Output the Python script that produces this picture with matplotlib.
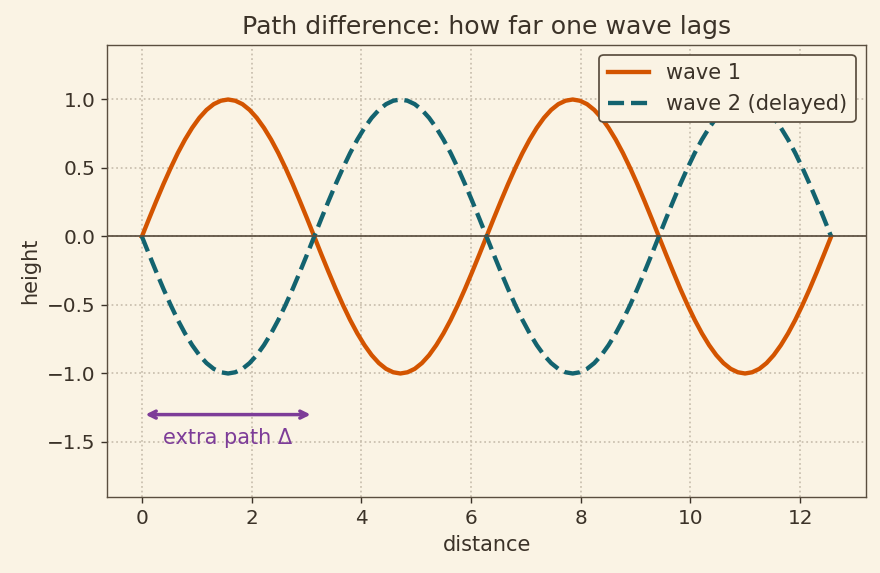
import matplotlib
matplotlib.use("Agg")
import matplotlib.pyplot as plt

plt.rcParams["font.family"] = ["DejaVu Sans"]

# distance samples (0 .. 4*pi)
distance = [0.000, 0.131, 0.262, 0.393, 0.524, 0.654, 0.785, 0.916, 1.047, 1.178, 1.309, 1.440,
            1.571, 1.702, 1.833, 1.963, 2.094, 2.225, 2.356, 2.487, 2.618, 2.749, 2.880, 3.011,
            3.142, 3.272, 3.403, 3.534, 3.665, 3.796, 3.927, 4.058, 4.189, 4.320, 4.451, 4.581,
            4.712, 4.843, 4.974, 5.105, 5.236, 5.367, 5.498, 5.629, 5.760, 5.890, 6.021, 6.152,
            6.283, 6.414, 6.545, 6.676, 6.807, 6.938, 7.069, 7.199, 7.330, 7.461, 7.592, 7.723,
            7.854, 7.985, 8.116, 8.247, 8.378, 8.508, 8.639, 8.770, 8.901, 9.032, 9.163, 9.294,
            9.425, 9.556, 9.687, 9.817, 9.948, 10.079, 10.210, 10.341, 10.472, 10.603, 10.734, 10.865,
            10.996, 11.126, 11.257, 11.388, 11.519, 11.650, 11.781, 11.912, 12.043, 12.174, 12.305, 12.435,
            12.566]

wave1 = [0.000, 0.131, 0.259, 0.383, 0.500, 0.609, 0.707, 0.793, 0.866, 0.924, 0.966, 0.991,
         1.000, 0.991, 0.966, 0.924, 0.866, 0.793, 0.707, 0.609, 0.500, 0.383, 0.259, 0.131,
         0.000, -0.131, -0.259, -0.383, -0.500, -0.609, -0.707, -0.793, -0.866, -0.924, -0.966, -0.991,
         -1.000, -0.991, -0.966, -0.924, -0.866, -0.793, -0.707, -0.609, -0.500, -0.383, -0.259, -0.131,
         0.000, 0.131, 0.259, 0.383, 0.500, 0.609, 0.707, 0.793, 0.866, 0.924, 0.966, 0.991,
         1.000, 0.991, 0.966, 0.924, 0.866, 0.793, 0.707, 0.609, 0.500, 0.383, 0.259, 0.131,
         0.000, -0.131, -0.259, -0.383, -0.500, -0.609, -0.707, -0.793, -0.866, -0.924, -0.966, -0.991,
         -1.000, -0.991, -0.966, -0.924, -0.866, -0.793, -0.707, -0.609, -0.500, -0.383, -0.259, -0.131,
         0.000]

wave2 = [0.000, -0.131, -0.259, -0.383, -0.500, -0.609, -0.707, -0.793, -0.866, -0.924, -0.966, -0.991,
         -1.000, -0.991, -0.966, -0.924, -0.866, -0.793, -0.707, -0.609, -0.500, -0.383, -0.259, -0.131,
         0.000, 0.131, 0.259, 0.383, 0.500, 0.609, 0.707, 0.793, 0.866, 0.924, 0.966, 0.991,
         1.000, 0.991, 0.966, 0.924, 0.866, 0.793, 0.707, 0.609, 0.500, 0.383, 0.259, 0.131,
         0.000, -0.131, -0.259, -0.383, -0.500, -0.609, -0.707, -0.793, -0.866, -0.924, -0.966, -0.991,
         -1.000, -0.991, -0.966, -0.924, -0.866, -0.793, -0.707, -0.609, -0.500, -0.383, -0.259, -0.131,
         0.000, 0.131, 0.259, 0.383, 0.500, 0.609, 0.707, 0.793, 0.866, 0.924, 0.966, 0.991,
         1.000, 0.991, 0.966, 0.924, 0.866, 0.793, 0.707, 0.609, 0.500, 0.383, 0.259, 0.131,
         0.000]

# arrow showing the lag
lag_start = 0.0
lag_end = 3.14
lag_y = -1.3

bg = "#faf3e4"
ink = "#3b3228"
edge = "#5a4e3f"

fig, ax = plt.subplots(figsize=(7.04, 4.584), dpi=125)
fig.patch.set_facecolor(bg)
ax.set_facecolor(bg)

ax.plot(distance, wave1, color="#d35400", lw=2.5, label="wave 1")
ax.plot(distance, wave2, color="#13636f", lw=2.5, ls="--", label="wave 2 (delayed)")
ax.axhline(0, color=edge, lw=1.0)

ax.annotate("", xy=(lag_end, lag_y), xytext=(lag_start, lag_y),
            arrowprops=dict(arrowstyle="<->", color="#7d3c98", lw=2))
ax.text((lag_start + lag_end) / 2, lag_y - 0.17, "extra path Δ", color="#7d3c98",
        fontsize=12, ha="center", va="center")

ax.set_ylim(-1.9, 1.4)
ax.set_xlim(-0.63, 13.2)
ax.set_title("Path difference: how far one wave lags", fontsize=14.5, color=ink)
ax.set_xlabel("distance", fontsize=12, color=ink)
ax.set_ylabel("height", fontsize=12, color=ink)
ax.tick_params(colors=ink, labelsize=11.5)
for s in ax.spines.values():
    s.set_color(edge)
ax.grid(True, ls=":", color="#c9bfae", lw=1)

leg = ax.legend(loc="upper right", fontsize=12, facecolor=bg, edgecolor=edge, framealpha=1)
for t in leg.get_texts():
    t.set_color(ink)

fig.subplots_adjust(left=0.122, right=0.984, top=0.922, bottom=0.133)
fig.savefig("out.png", dpi=125, facecolor=bg)
